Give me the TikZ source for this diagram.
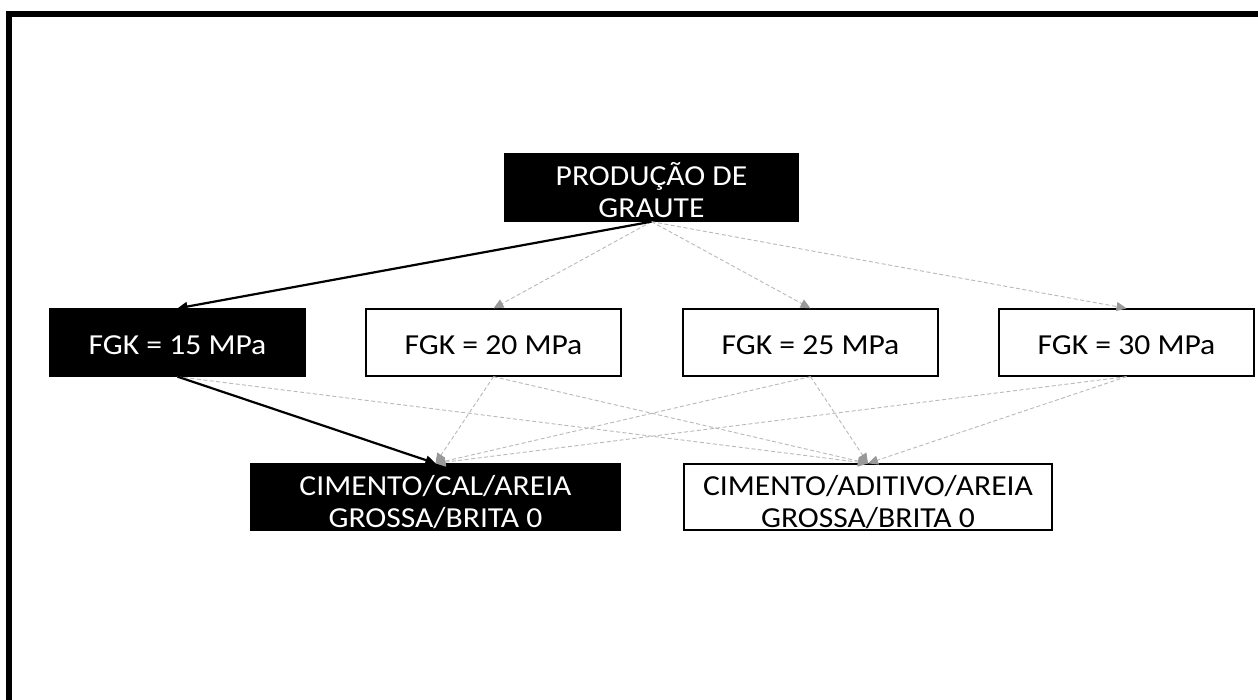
\documentclass[tikz,border=0pt]{standalone}
\usepackage{fontspec}
\setmainfont{Carlito}[FakeStretch=1.09]
\usetikzlibrary{arrows.meta}
\begin{document}
\begin{tikzpicture}[x=1pt,y=-1pt,
  box/.style={rectangle, draw=black, line width=1.3pt, inner sep=0pt, minimum height=67pt},
  blk/.style={box, fill=black},
  wht/.style={box, fill=white},
  txt/.style={font=\fontsize{29}{32}\selectfont, align=center, inner sep=0pt},
  wtxt/.style={txt, text=white},
  ktxt/.style={txt, text=black},
  mainarr/.style={draw=black, line width=2.2pt, -{Triangle[length=10pt,width=9pt]}},
  dasharr/.style={draw=gray!55, line width=0.9pt, dash pattern=on 4pt off 2.5pt,
     -{Triangle[length=10pt,width=9pt,color=gray!80,fill=gray!80]}}]
\useasboundingbox (0,0) rectangle (1258,700);
\fill[white] (0,0) rectangle (1258,700);
\draw[line width=6pt, line join=miter] (9,710) -- (9,14) -- (1270,14);

\node[blk, minimum width=293pt, label={[wtxt, yshift=-3pt]center:PRODUÇÃO DE\\GRAUTE}] (top) at (651.5,187.5) {};
\node[blk, minimum width=255pt, label={[wtxt, yshift=-3pt]center:FGK = 15 MPa}] (f15) at (177.5,342.5) {};
\node[wht, minimum width=255pt, label={[ktxt, yshift=-3pt]center:FGK = 20 MPa}] (f20) at (493.5,342.5) {};
\node[wht, minimum width=255pt, label={[ktxt, yshift=-3pt]center:FGK = 25 MPa}] (f25) at (810.5,342.5) {};
\node[wht, minimum width=255pt, label={[ktxt, yshift=-3pt]center:FGK = 30 MPa}] (f30) at (1126.5,342.5) {};
\node[blk, minimum width=369pt, minimum height=66pt, label={[wtxt, yshift=-5pt]center:CIMENTO/CAL/AREIA\\GROSSA/BRITA 0}] (cal) at (435.5,497) {};
\node[wht, minimum width=368pt, minimum height=66pt, label={[ktxt, yshift=-5pt]center:CIMENTO/ADITIVO/AREIA\\GROSSA/BRITA 0}] (adi) at (868,497) {};

\draw[dasharr] (top.south) -- (f20.north);
\draw[dasharr] (top.south) -- (f25.north);
\draw[dasharr] (top.south) -- (f30.north);
\draw[dasharr] (f15.south) -- (adi.north);
\draw[dasharr] (f20.south) -- (cal.north);
\draw[dasharr] (f20.south) -- (adi.north);
\draw[dasharr] (f25.south) -- (cal.north);
\draw[dasharr] (f25.south) -- (adi.north);
\draw[dasharr] (f30.south) -- (cal.north);
\draw[dasharr] (f30.south) -- (adi.north);
\draw[mainarr] (top.south) -- (f15.north);
\draw[mainarr] (f15.south) -- (cal.north);
\end{tikzpicture}
\end{document}
